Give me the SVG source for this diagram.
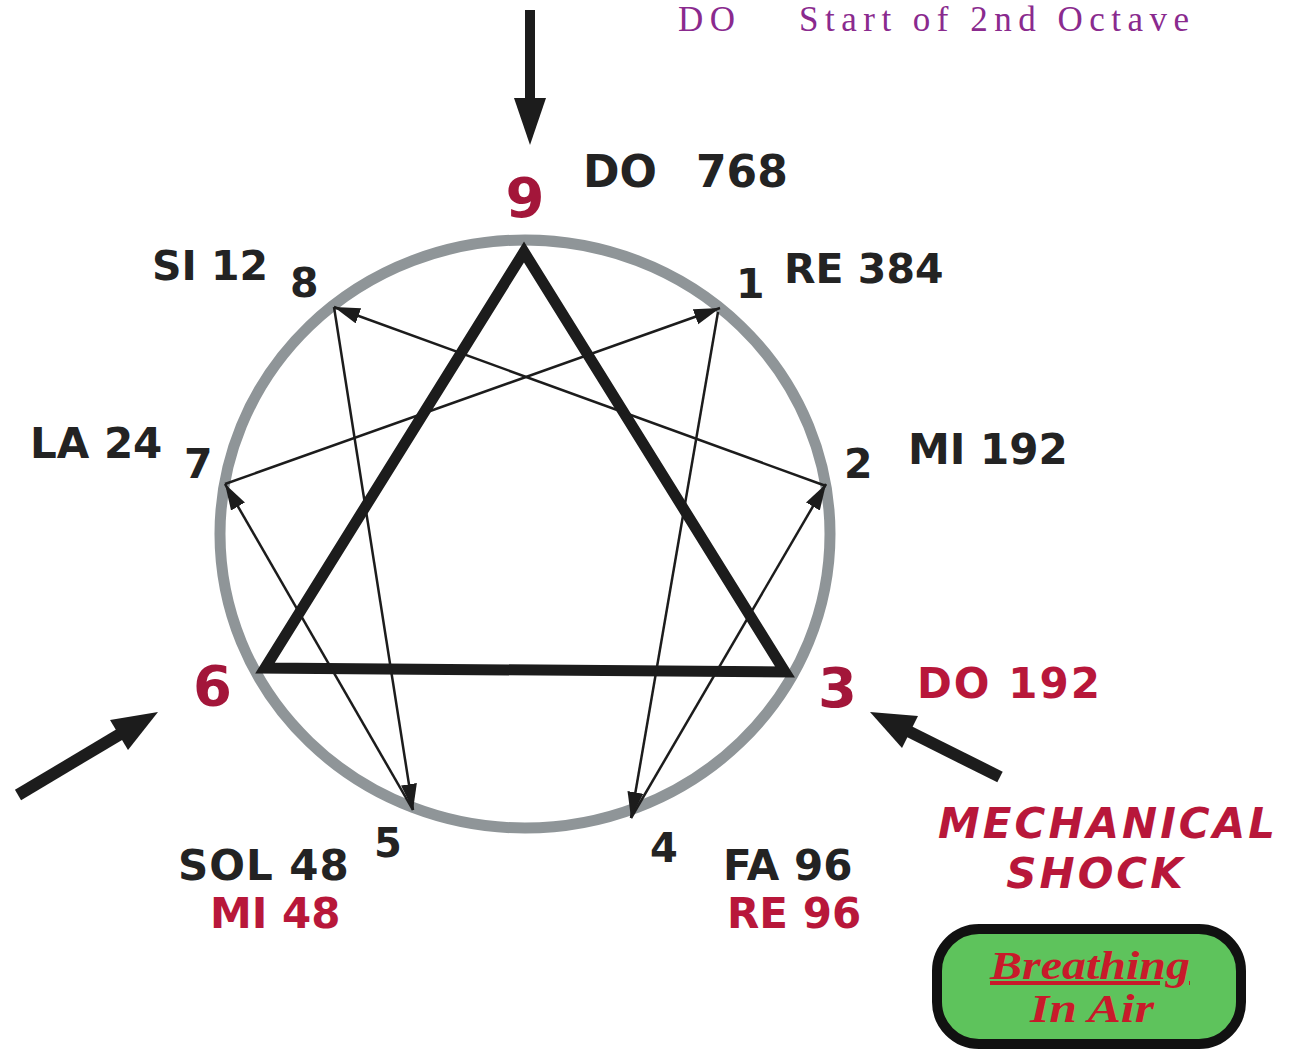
<svg xmlns="http://www.w3.org/2000/svg" width="1302" height="1052" viewBox="0 0 1302 1052">
<defs>
<style>
.lbl{font-family:"DejaVu Sans","Liberation Sans",sans-serif;font-weight:bold;fill:#232323;}
.red{fill:#b8173a;}
.big{font-family:"DejaVu Sans","Liberation Sans",sans-serif;font-weight:bold;fill:#a3163a;font-size:56px;}
.thin{stroke:#1c1c1c;stroke-width:2.5;fill:none;marker-end:url(#ah);}
.blk{fill:#1c1c1c;}
.ttl{font-family:"Liberation Serif","DejaVu Serif",serif;font-size:35px;fill:#8a2a8e;letter-spacing:6.5px;}
.scr{font-family:"Liberation Serif","DejaVu Serif",serif;font-size:40px;font-weight:bold;font-style:italic;fill:#c81a2a;}
</style>
<marker id="ah" markerUnits="userSpaceOnUse" markerWidth="28" markerHeight="18" refX="26" refY="8" orient="auto">
<path d="M0,0 L26,8 L0,16 Z" fill="#1c1c1c"/>
</marker>
</defs>
<rect width="1302" height="1052" fill="#ffffff"/>

<g id="circle">
<ellipse cx="525" cy="534" rx="305" ry="294" fill="none" stroke="#8f9598" stroke-width="11"/>
</g>

<g id="connectors">
<polygon id="triangle" points="524,252 265,668 785,672" fill="none" stroke="#1c1c1c" stroke-width="11" stroke-linejoin="miter"/>
<line class="thin" x1="718" y1="312" x2="631" y2="818"/>
<line class="thin" x1="631" y1="818" x2="826" y2="484"/>
<line class="thin" x1="826" y1="486" x2="334" y2="307"/>
<line class="thin" x1="334" y1="307" x2="413" y2="810"/>
<line class="thin" x1="413" y1="810" x2="225" y2="484"/>
<line class="thin" x1="225" y1="484" x2="720" y2="308"/>
<g id="arrow-top">
<rect class="blk" x="525" y="10" width="10" height="92"/>
<polygon class="blk" points="514,98 546,98 530,145"/>
</g>
<g id="arrow-left">
<line x1="18" y1="795" x2="122" y2="733" stroke="#1c1c1c" stroke-width="12"/>
<polygon class="blk" points="158,712 128,750 110,720"/>
</g>
<g id="arrow-right">
<line x1="1000" y1="777" x2="906" y2="730" stroke="#1c1c1c" stroke-width="12"/>
<polygon class="blk" points="870,712 918,716 902,748"/>
</g>
</g>

<g id="title">
<text class="ttl" x="678" y="31">DO</text>
<text class="ttl" x="799" y="31">Start of 2nd Octave</text>
</g>

<g id="node-9">
<text class="big" x="525" y="217" text-anchor="middle">9</text>
<text class="lbl" x="583" y="187" font-size="44">DO</text>
<text class="lbl" x="696" y="187" font-size="44">768</text>
</g>
<g id="node-8">
<text class="lbl" x="152" y="280" font-size="41">SI 12</text>
<text class="lbl" x="290" y="297" font-size="41">8</text>
</g>
<g id="node-1">
<text class="lbl" x="736" y="298" font-size="41">1</text>
<text class="lbl" x="784" y="283" font-size="41">RE 384</text>
</g>
<g id="node-7">
<text class="lbl" x="30" y="458" font-size="42">LA 24</text>
<text class="lbl" x="184" y="478" font-size="41">7</text>
</g>
<g id="node-2">
<text class="lbl" x="844" y="478" font-size="41">2</text>
<text class="lbl" x="908" y="464" font-size="42">MI 192</text>
</g>
<g id="node-6">
<text class="big" x="193" y="705">6</text>
</g>
<g id="node-3">
<text class="big" x="818" y="707">3</text>
<text class="lbl red" x="917" y="698" font-size="42" letter-spacing="2">DO 192</text>
</g>
<g id="node-5">
<text class="lbl" x="374" y="857" font-size="40">5</text>
<text class="lbl" x="178" y="880" font-size="42" letter-spacing="1">SOL 48</text>
<text class="lbl red" x="210" y="928" font-size="42">MI 48</text>
</g>
<g id="node-4">
<text class="lbl" x="650" y="862" font-size="40">4</text>
<text class="lbl" x="723" y="880" font-size="42">FA 96</text>
<text class="lbl red" x="727" y="928" font-size="42">RE 96</text>
</g>
<g id="shock">
<text class="lbl red" x="1108" y="838" font-size="42" font-style="italic" letter-spacing="3" text-anchor="middle">MECHANICAL</text>
<text class="lbl red" x="1096" y="888" font-size="42" font-style="italic" letter-spacing="3" text-anchor="middle">SHOCK</text>
</g>
<g id="breathing">
<rect x="937" y="929" width="304" height="115" rx="42" ry="42" fill="#5ec35c" stroke="#111111" stroke-width="10"/>
<text class="scr" x="990" y="979" textLength="200" lengthAdjust="spacingAndGlyphs" text-decoration="underline">Breathing</text>
<text class="scr" x="1030" y="1022" textLength="124" lengthAdjust="spacingAndGlyphs">In Air</text>
</g>
</svg>
